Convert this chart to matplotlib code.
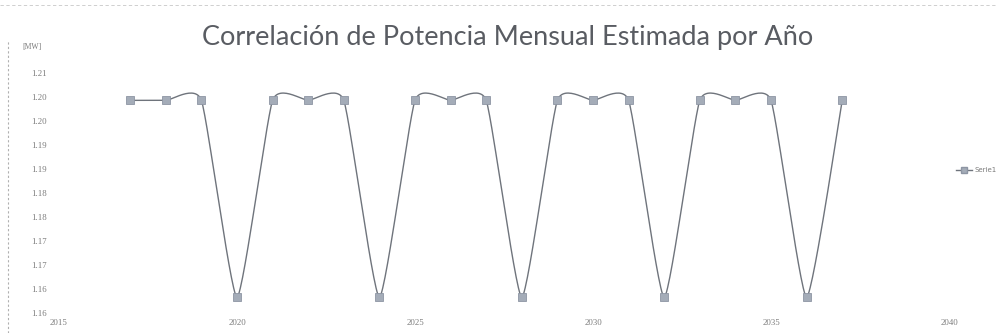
import matplotlib
matplotlib.use("Agg")
import matplotlib.pyplot as plt
import numpy as np
from matplotlib.lines import Line2D

# Data (yearly values, MW)
years = [2017, 2018, 2019, 2020, 2021, 2022, 2023, 2024, 2025, 2026, 2027,
         2028, 2029, 2030, 2031, 2032, 2033, 2034, 2035, 2036, 2037]
power = [1.2043, 1.2043, 1.2043, 1.1633, 1.2043, 1.2043, 1.2043, 1.1633,
         1.2043, 1.2043, 1.2043, 1.1633, 1.2043, 1.2043, 1.2043, 1.1633,
         1.2043, 1.2043, 1.2043, 1.1633, 1.2043]
series_name = "Serie1"

x_ticks = [2015, 2020, 2025, 2030, 2035, 2040]
y_ticks = [1.160, 1.165, 1.170, 1.175, 1.180, 1.185, 1.190, 1.195, 1.200, 1.205, 1.210]
y_tick_labels = ["1.16", "1.16", "1.17", "1.17", "1.18", "1.18", "1.19", "1.19",
                 "1.20", "1.20", "1.21"]

title = "Correlación de Potencia Mensual Estimada por Año"
unit_label = "[MW]"

LINE_COLOR = "#6f747c"
MARKER_COLOR = "#a4acb8"
TEXT_COLOR = "#7a7a7a"


def smooth_curve(x, y, k=0.5, n=30):
    """Excel-like smoothed line: cubic Bezier segments with damped Catmull-Rom handles."""
    x = np.asarray(x, dtype=float)
    y = np.asarray(y, dtype=float)
    px = np.concatenate([[x[0]], x, [x[-1]]])
    py = np.concatenate([[y[0]], y, [y[-1]]])
    xs, ys = [], []
    t = np.linspace(0, 1, n)
    for i in range(1, len(px) - 2):
        p0 = np.array([px[i], py[i]])
        p1 = np.array([px[i + 1], py[i + 1]])
        c0 = p0 + k * (np.array([px[i + 1], py[i + 1]]) - np.array([px[i - 1], py[i - 1]])) / 6
        c1 = p1 - k * (np.array([px[i + 2], py[i + 2]]) - np.array([px[i], py[i]])) / 6
        b = ((1 - t) ** 3)[:, None] * p0 + (3 * (1 - t) ** 2 * t)[:, None] * c0 \
            + (3 * (1 - t) * t ** 2)[:, None] * c1 + (t ** 3)[:, None] * p1
        xs.append(b[:, 0])
        ys.append(b[:, 1])
    return np.concatenate(xs), np.concatenate(ys)


fig = plt.figure(figsize=(9.97, 3.33), dpi=100)
ax = fig.add_axes([59 / 997, 20 / 333, 890 / 997, 240 / 333])

sx, sy = smooth_curve(years, power)
ax.plot(sx, sy, color=LINE_COLOR, lw=1.0, zorder=2)
ax.plot(years, power, linestyle="none", marker="s", markersize=5.5,
        markerfacecolor=MARKER_COLOR, markeredgecolor="#8d95a3",
        markeredgewidth=0.6, zorder=3)

ax.set_xlim(2015, 2040)
ax.set_ylim(1.160, 1.210)
ax.set_xticks(x_ticks)
ax.set_xticklabels([str(v) for v in x_ticks])
ax.set_yticks(y_ticks)
ax.set_yticklabels(y_tick_labels)
ax.tick_params(length=0, labelsize=6.3, labelcolor=TEXT_COLOR)
ax.tick_params(axis="y", pad=9)
ax.tick_params(axis="x", pad=4)
for lbl in ax.get_xticklabels() + ax.get_yticklabels():
    lbl.set_family("Liberation Serif")
for side in ["top", "right", "bottom", "left"]:
    ax.spines[side].set_visible(False)

fig.text(508 / 997, 1 - 38 / 333, title, ha="center", va="center",
         fontsize=19.5, color="#595c62", family="Lato")
fig.text(22 / 997, 1 - 47 / 333, unit_label, ha="left", va="center",
         fontsize=5.5, color=TEXT_COLOR, family="Liberation Serif")

# Legend on the right
handle = Line2D([], [], color=LINE_COLOR, lw=1.0, marker="s", markersize=5,
                markerfacecolor=MARKER_COLOR, markeredgecolor="#8d95a3")
leg = fig.legend([handle], [series_name], loc="center left",
                 bbox_to_anchor=(950 / 997, 1 - 170 / 333), frameon=False,
                 fontsize=5, handlelength=2.2, handletextpad=0.4, labelcolor=TEXT_COLOR)

# Faint dashed chart border left by the scan
fig.add_artist(Line2D([8 / 997, 8 / 997], [0, 1 - 40 / 333], transform=fig.transFigure,
                      color="#b0b0b0", lw=0.8, ls=(0, (2, 2))))
fig.add_artist(Line2D([0, 1], [1 - 5 / 333, 1 - 5 / 333], transform=fig.transFigure,
                      color="#c8c8c8", lw=0.6, ls=(0, (4, 3))))

fig.savefig("out.png", dpi=100)
